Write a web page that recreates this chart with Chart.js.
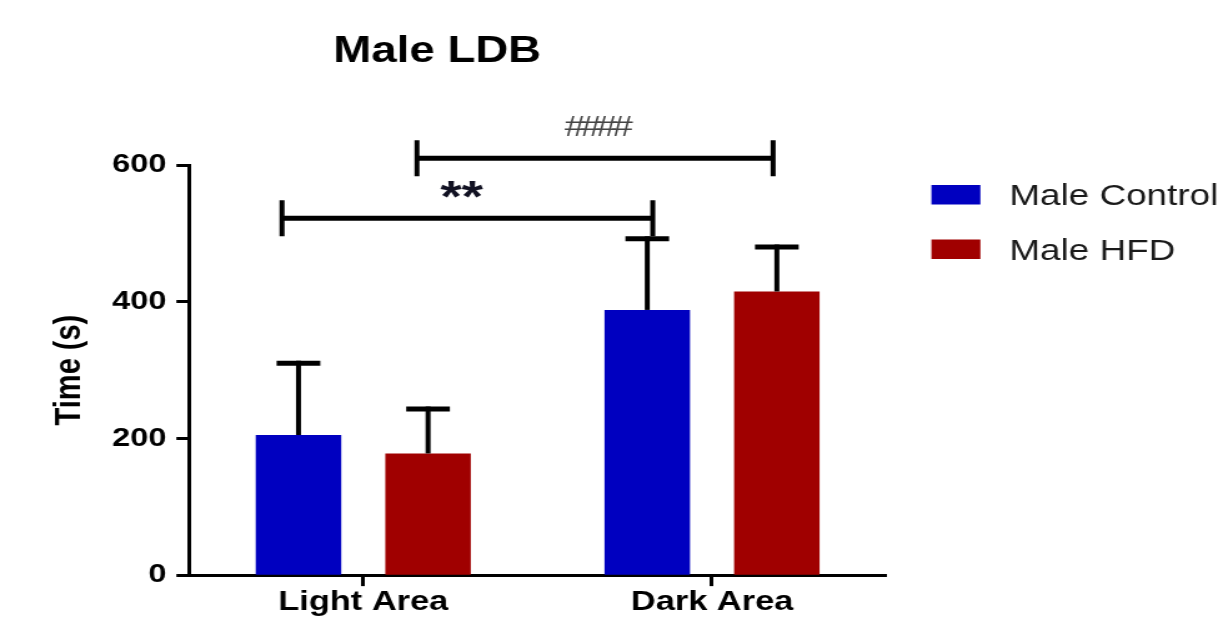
<!DOCTYPE html>
<html><head><meta charset="utf-8">
<script src="https://cdn.jsdelivr.net/npm/chart.js@4.4.1/dist/chart.umd.min.js"></script>
<style>
html,body{margin:0;padding:0;background:#fff;overflow:hidden;width:1218px;height:619px;}
#wrap{position:absolute;left:0;top:0;width:975px;height:619px;transform:scaleX(1.2492);transform-origin:0 0;}
</style></head><body>
<div id="wrap"><canvas id="c"></canvas></div>
<script>
// ---- data ----
const categories = ['Light Area', 'Dark Area'];
const seriesNames = ['Male Control', 'Male HFD'];
const controlMeans = [205, 388];
const controlErrors = [105, 104];
const hfdMeans = [178, 415];
const hfdErrors = [65, 65];
const yTicks = [0, 200, 400, 600];
const chartTitle = 'Male LDB';
const yAxisTitle = 'Time (s)';
// significance brackets (x in category-index units, y in data units)
const sigLabels = ['**', '####'];
const sigFrom = [-0.233, 0.154];
const sigTo = [0.83, 1.175];
const sigLevel = [522, 610];
const sigLabelX = [0.282, 0.661];
const sigLabelY = [568, 657];

const FAM = "'Liberation Sans', Arial, Helvetica, sans-serif";
const colors = ['#0000C0', '#A00000'];

const overlay = {
  id: 'overlay',
  afterDatasetsDraw(chart) {
    const ctx = chart.ctx, x = chart.scales.x, y = chart.scales.y;
    const means = [controlMeans, hfdMeans], errs = [controlErrors, hfdErrors];
    ctx.save();
    ctx.strokeStyle = '#000';
    ctx.lineCap = 'butt';
    // error bars (upper only)
    chart.data.datasets.forEach((ds, di) => {
      chart.getDatasetMeta(di).data.forEach((bar, i) => {
        const top = y.getPixelForValue(means[di][i] + errs[di][i]);
        ctx.lineWidth = 4;
        ctx.beginPath(); ctx.moveTo(bar.x, bar.y); ctx.lineTo(bar.x, top - 2.5); ctx.stroke();
        ctx.lineWidth = 5;
        ctx.beginPath(); ctx.moveTo(bar.x - 17.5, top); ctx.lineTo(bar.x + 17.5, top); ctx.stroke();
      });
    });
    // significance brackets
    sigLabels.forEach((lab, k) => {
      const x1 = x.getPixelForValue(sigFrom[k]);
      const x2 = x.getPixelForValue(sigTo[k]);
      const yy = y.getPixelForValue(sigLevel[k]);
      ctx.lineWidth = 5;
      ctx.beginPath(); ctx.moveTo(x1, yy); ctx.lineTo(x2, yy); ctx.stroke();
      ctx.lineWidth = 4;
      ctx.beginPath();
      ctx.moveTo(x1, yy - 18); ctx.lineTo(x1, yy + 18);
      ctx.moveTo(x2, yy - 18); ctx.lineTo(x2, yy + 18);
      ctx.stroke();
      const lx = x.getPixelForValue(sigLabelX[k]);
      const ly = y.getPixelForValue(sigLabelY[k]);
      ctx.textAlign = 'center';
      ctx.textBaseline = 'alphabetic';
      if (lab.startsWith('*')) {
        ctx.fillStyle = '#111122';
        ctx.font = 'bold 44px ' + FAM;
        ctx.fillText(lab, lx, ly + 25);
      } else {
        ctx.fillStyle = '#444';
        ctx.font = '30px ' + FAM;
        if ('letterSpacing' in ctx) ctx.letterSpacing = '-4px';
        ctx.fillText(lab, lx + 2, ly + 10);
        if ('letterSpacing' in ctx) ctx.letterSpacing = '0px';
      }
    });
    // title
    ctx.fillStyle = '#000';
    ctx.font = 'bold 36.5px ' + FAM;
    ctx.textAlign = 'center';
    ctx.fillText(chartTitle, 350, 62);
    // legend
    ctx.textAlign = 'left';
    ctx.font = '29.5px ' + FAM;
    seriesNames.forEach((name, i) => {
      const by = 185 + i * 54.5;
      ctx.fillStyle = colors[i];
      ctx.fillRect(745.6, by, 39.2, 19.5);
      ctx.fillStyle = '#1a1a1a';
      ctx.fillText(name, 808, by + 20);
    });
    ctx.restore();
  }
};

new Chart(document.getElementById('c'), {
  type: 'bar',
  data: {
    labels: categories,
    datasets: [
      { label: seriesNames[0], data: controlMeans, backgroundColor: colors[0], borderWidth: 0 },
      { label: seriesNames[1], data: hfdMeans, backgroundColor: colors[1], borderWidth: 0 }
    ]
  },
  options: {
    responsive: true,
    maintainAspectRatio: false,
    devicePixelRatio: 1,
    animation: false,
    categoryPercentage: 0.743,
    barPercentage: 0.66,
    layout: { padding: { left: 39, right: 265.4, top: 165, bottom: 0 } },
    plugins: { legend: { display: false }, title: { display: false }, tooltip: { enabled: false } },
    scales: {
      x: {
        border: { display: true, color: '#000', width: 3 },
        grid: { display: true, drawOnChartArea: false, drawTicks: true, tickLength: 11, tickWidth: 3, tickColor: '#000', offset: false },
        ticks: { color: '#000', font: { family: FAM, size: 27.5, weight: 'bold', lineHeight: 1.05 }, padding: 2, maxRotation: 0 }
      },
      y: {
        min: 0, max: 600,
        afterBuildTicks: (s) => { s.ticks = yTicks.map(v => ({ value: v })); },
        border: { display: true, color: '#000', width: 3 },
        grid: { display: true, drawOnChartArea: false, drawTicks: true, tickLength: 10, tickWidth: 3, tickColor: '#000' },
        ticks: { color: '#000', font: { family: FAM, size: 26, weight: 'bold' }, padding: 8 },
        title: { display: true, text: yAxisTitle, color: '#000', font: { family: FAM, size: 29, weight: 'bold' }, padding: { top: 0, bottom: 8 } }
      }
    }
  },
  plugins: [overlay]
});
</script>
</body></html>
